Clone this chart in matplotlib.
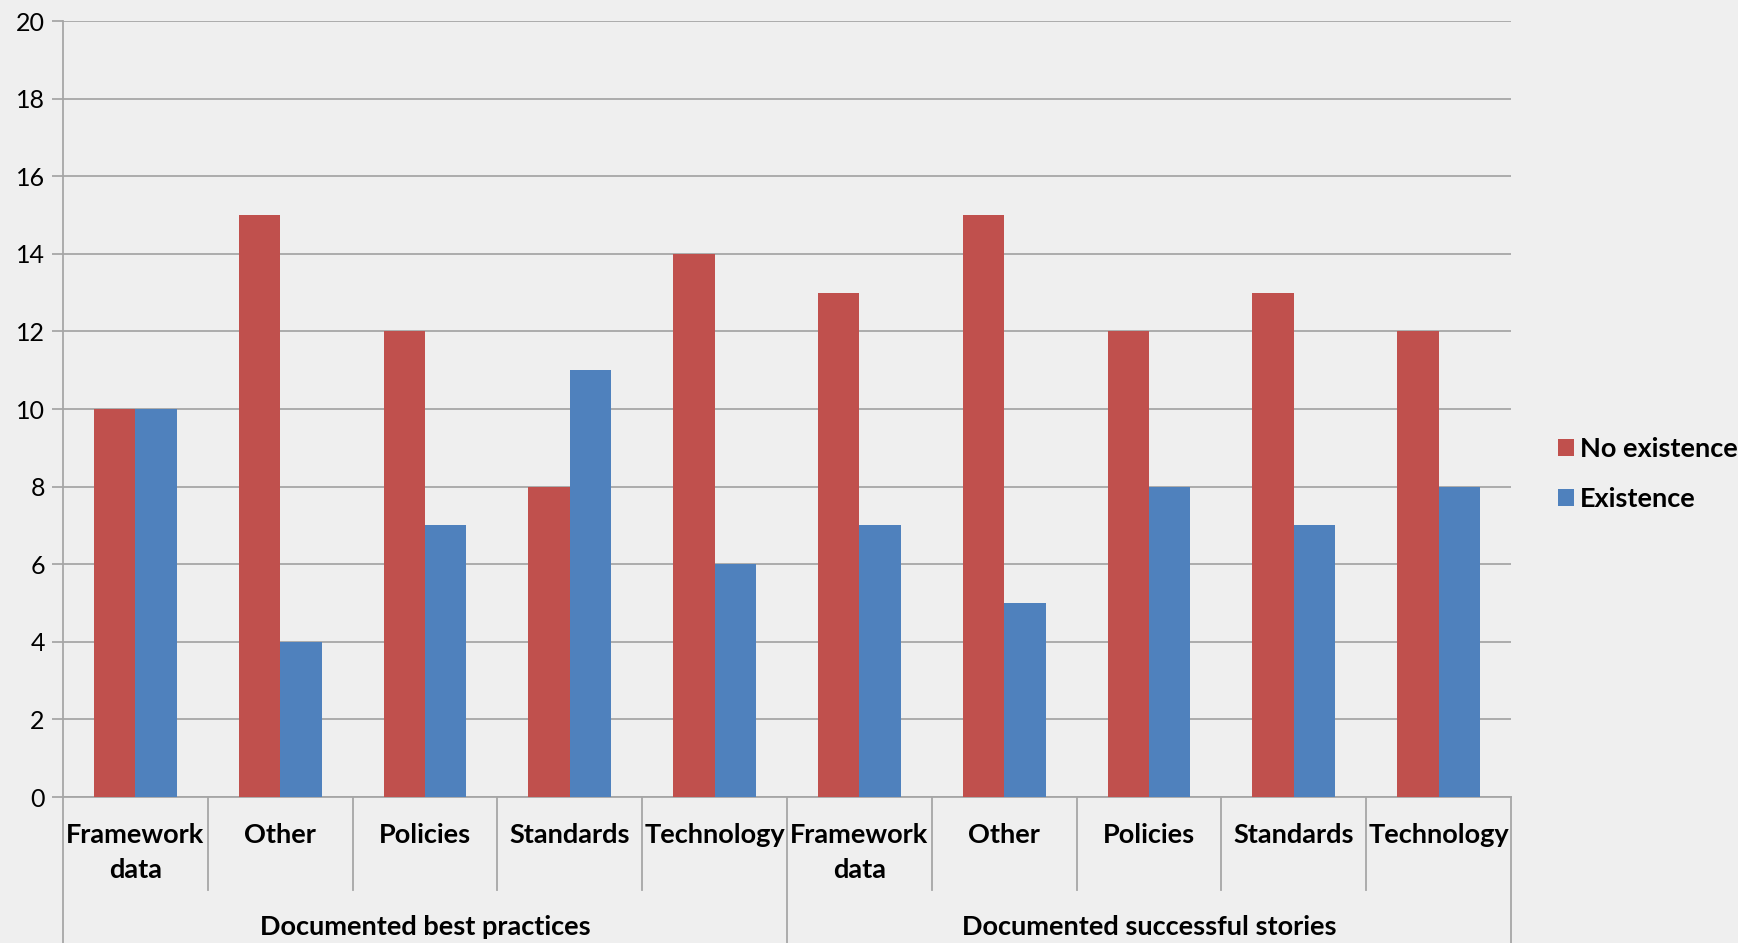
import matplotlib
matplotlib.use('Agg')
import matplotlib.pyplot as plt
import numpy as np

plt.rcParams['font.family'] = ['Lato', 'DejaVu Sans']

groups = ['Documented best practices', 'Documented successful stories']
subcats = ['Framework\ndata', 'Other', 'Policies', 'Standards', 'Technology']
series = ['No existence', 'Existence']
no_existence = [10, 15, 12, 8, 14, 13, 15, 12, 13, 12]
existence = [10, 4, 7, 11, 6, 7, 5, 8, 7, 8]
yticks = [0, 2, 4, 6, 8, 10, 12, 14, 16, 18, 20]

RED = '#C0504D'
BLUE = '#4F81BD'
GRID = '#a6a6a6'
BG = '#efefef'

fig = plt.figure(figsize=(17.38, 9.43), dpi=100, facecolor=BG)
ax = fig.add_axes((0.0362, 0.1548, 0.8332, 0.8229), facecolor=BG)

n = len(no_existence)
x = np.arange(n)
w = 0.286
ax.bar(x - w / 2, no_existence, w, color=RED, label=series[0], zorder=3)
ax.bar(x + w / 2, existence, w, color=BLUE, label=series[1], zorder=3)

ax.set_xlim(-0.5, n - 0.5)
ax.set_ylim(0, 20)
ax.set_yticks(yticks)
ax.yaxis.grid(True, color=GRID, linewidth=1.3, zorder=0)
ax.tick_params(axis='y', labelsize=18, length=8, width=1.3, color=GRID, pad=5)
ax.set_xticks([])
for s in ['top', 'right']:
    ax.spines[s].set_visible(False)
for s in ['left', 'bottom']:
    ax.spines[s].set_color(GRID)
    ax.spines[s].set_linewidth(1.3)

# hierarchical category axis
tr = ax.get_xaxis_transform()
inner_bot = -0.1198
outer_bot = -0.19
for i in range(n):
    ax.text(i, -0.034, subcats[i % len(subcats)], transform=tr, ha='center', va='top',
            fontsize=19.5, fontweight='bold', linespacing=1.55)
for b in np.arange(0.5, n - 0.5, 1.0):
    if b == 4.5:
        continue
    ax.plot([b, b], [0, inner_bot], transform=tr, color=GRID, linewidth=1.3, clip_on=False)
for b in [-0.5, 4.5, 9.5]:
    ax.plot([b, b], [0, outer_bot], transform=tr, color=GRID, linewidth=1.3, clip_on=False)
for gi, g in enumerate(groups):
    ax.text(gi * 5 + 2, -0.1675, g, transform=tr, ha='center', va='center',
            fontsize=19.5, fontweight='bold')

leg = ax.legend(loc='center left', bbox_to_anchor=(1.025, 0.416), frameon=False,
                fontsize=19.5, handlelength=0.6, handleheight=0.6, handletextpad=0.2,
                labelspacing=0.95, borderaxespad=0)
for t in leg.get_texts():
    t.set_fontweight('bold')

fig.savefig('out.png', dpi=100, facecolor=BG)
